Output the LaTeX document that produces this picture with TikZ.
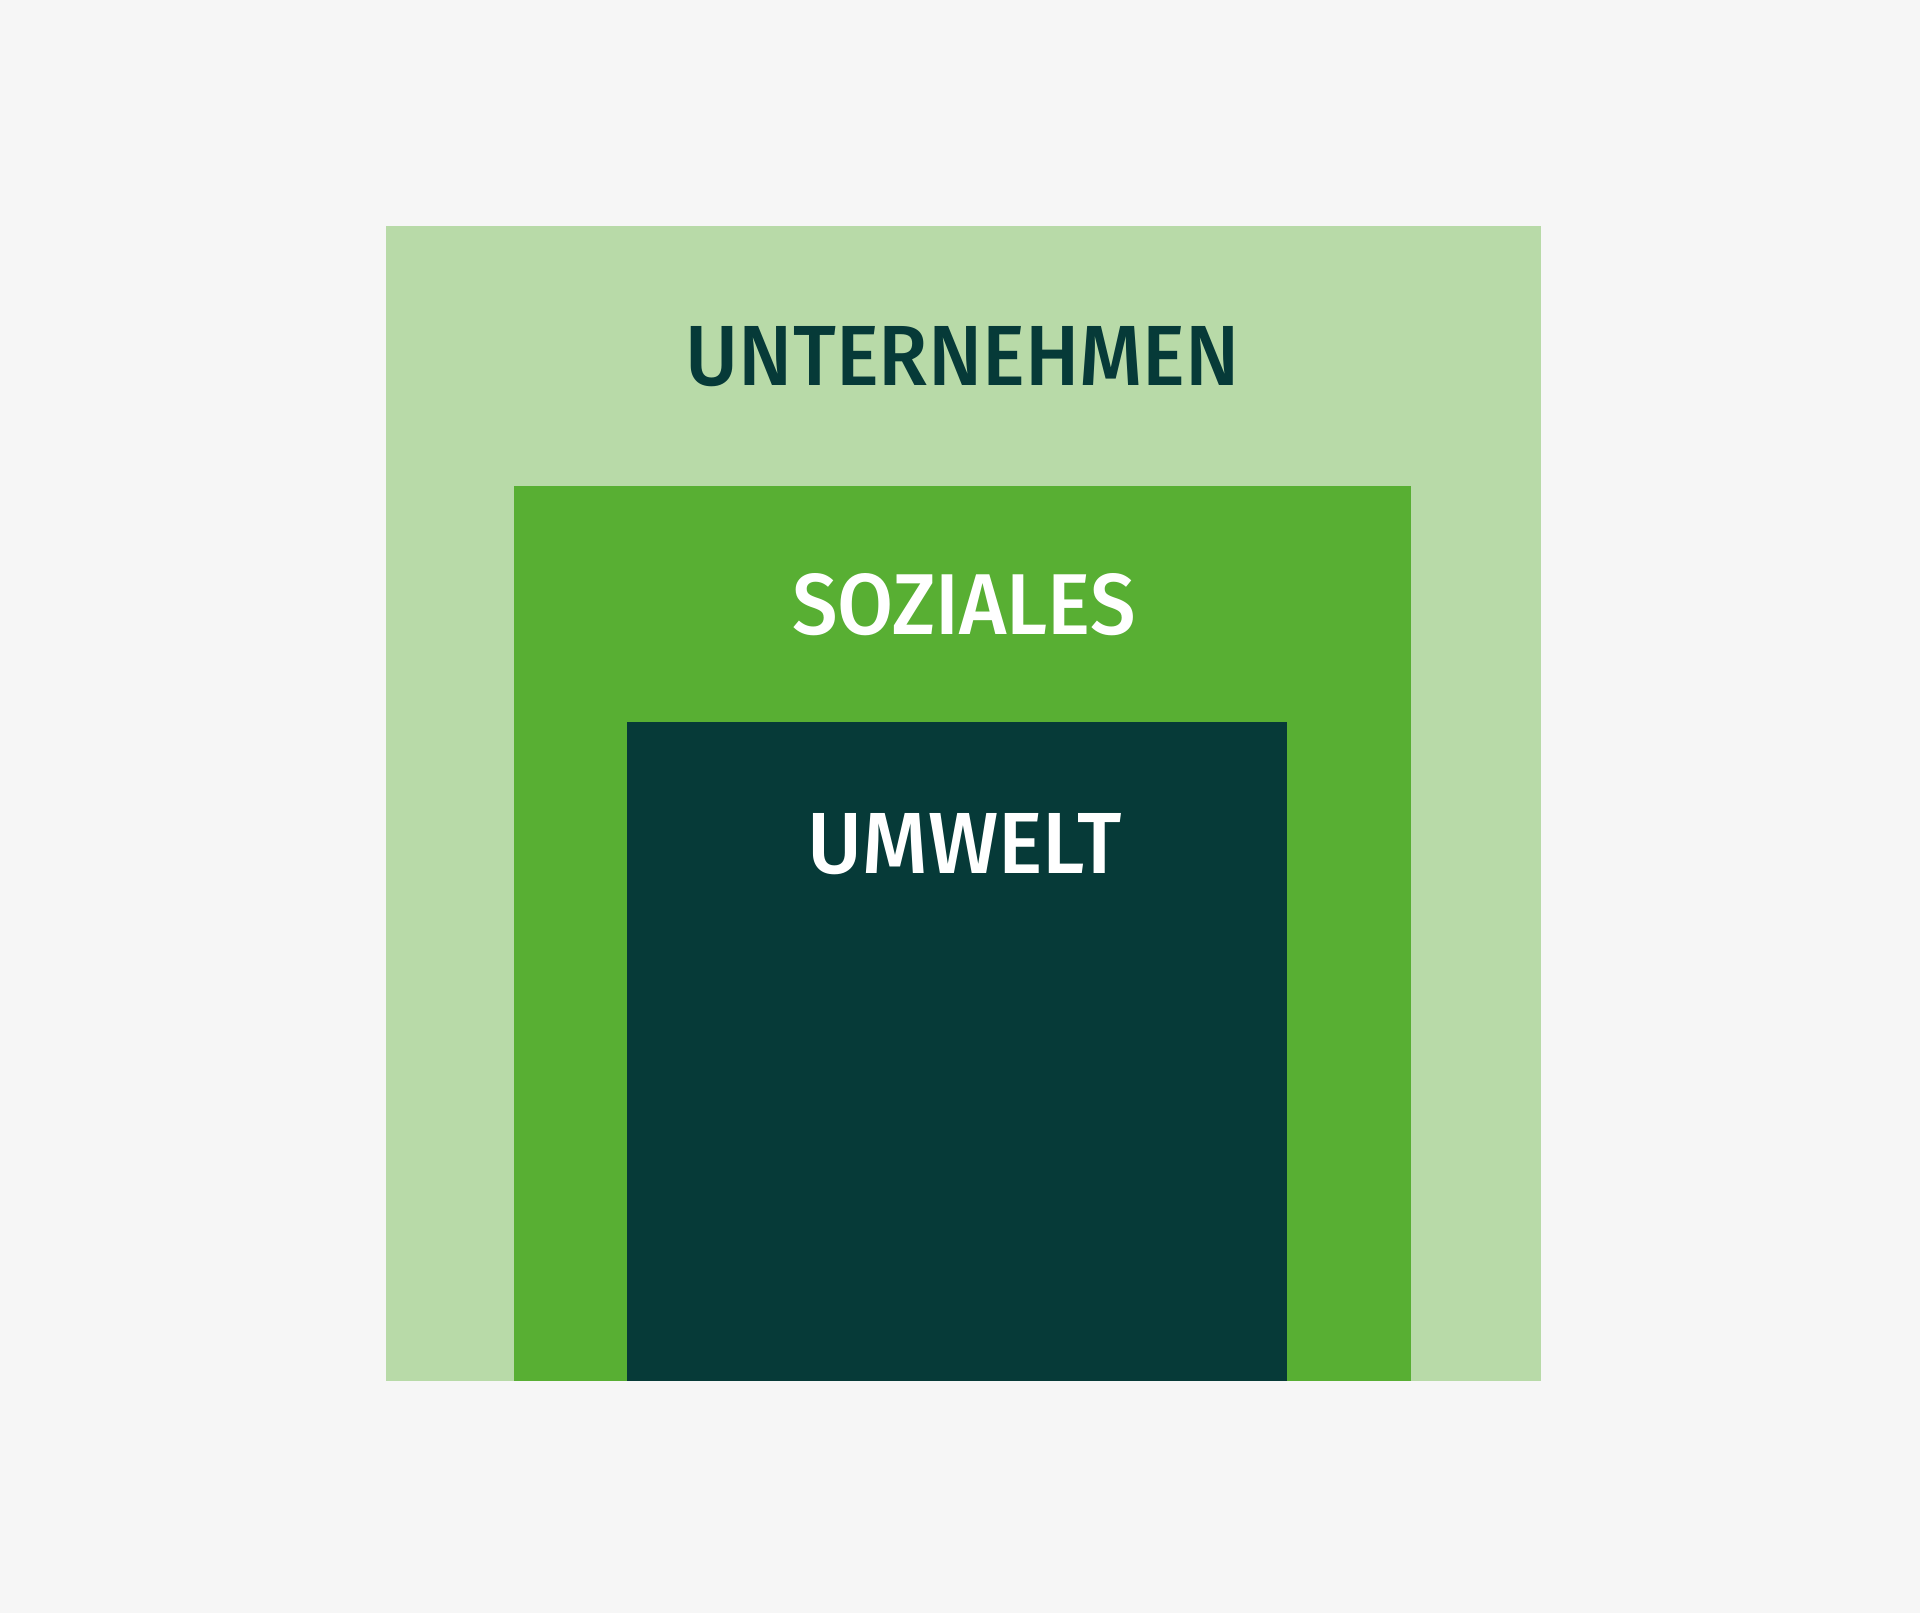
\documentclass[tikz,border=0pt]{standalone}
\usepackage{fontspec}
\IfFontExistsTF{Fira Sans Medium}{\setmainfont{Fira Sans Medium}}{\setmainfont{Fira Sans}}
\usepackage{graphicx}
\definecolor{bgc}{HTML}{F6F6F6}
\definecolor{lightg}{HTML}{B8DAA8}
\definecolor{midg}{HTML}{58AF33}
\definecolor{darkg}{HTML}{063A38}
\tikzset{
  layer/.style={rectangle, draw=none, inner sep=0pt, outer sep=0pt, anchor=north west},
  lbl/.style={inner sep=0pt, outer sep=0pt, anchor=center}
}
\begin{document}
\begin{tikzpicture}[x=1pt,y=-1pt]
\fill[bgc] (0,0) rectangle (1920,1613);
\useasboundingbox (0,0) rectangle (1920,1613);
\node[layer, fill=lightg, minimum width=1155pt, minimum height=1155pt] (outer) at (386,226) {};
\node[layer, fill=midg, minimum width=897pt, minimum height=895pt] (middle) at (514,486) {};
\node[layer, fill=darkg, minimum width=660pt, minimum height=659pt] (inner) at (627,722) {};
\node[lbl, text=darkg] (t1) at (963,356.5) {\resizebox{554pt}{59pt}{UNTERNEHMEN}};
\node[lbl, text=white] (t2) at (964,604.5) {\resizebox{343pt}{61pt}{SOZIALES}};
\node[lbl, text=white] (t3) at (965,844.5) {\resizebox{314pt}{60pt}{UMWELT}};
\end{tikzpicture}
\end{document}
